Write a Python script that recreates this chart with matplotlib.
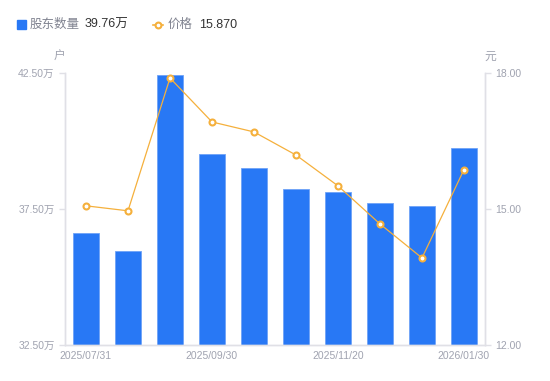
import matplotlib
matplotlib.use("Agg")
import matplotlib.pyplot as plt
from matplotlib.lines import Line2D

plt.rcParams['font.family'] = ['Liberation Sans', 'Noto Sans CJK SC', 'DejaVu Sans']

dates = ["2025/07/31", "2025/08/15", "2025/08/31", "2025/09/30", "2025/10/15",
         "2025/10/31", "2025/11/20", "2025/12/10", "2025/12/31", "2026/01/30"]
holders = [36.62, 35.96, 42.43, 39.52, 39.01, 38.24, 38.13, 37.72, 37.61, 39.76]
prices = [15.07, 14.96, 17.89, 16.92, 16.70, 16.19, 15.51, 14.67, 13.92, 15.87]
left_ticks = [32.5, 37.5, 42.5]
right_ticks = [12.0, 15.0, 18.0]
shown_idx = [0, 3, 6, 9]

BLUE = "#2878F5"
ORANGE = "#F5B03C"
GRID = "#E0E0E6"
TXT = "#A0A3B0"

fig = plt.figure(figsize=(5.5, 3.81), dpi=100)
ax = fig.add_axes([65/550, 36/381, 420/550, 272/381])
x = list(range(len(dates)))
ax.bar(x, holders, width=0.6, color=BLUE, edgecolor="#6FA3F7", linewidth=0.6, zorder=2)
ax.set_xlim(-0.5, len(dates) - 0.5)
ax.set_ylim(left_ticks[0], left_ticks[-1])
ax.set_yticks(left_ticks)
ax.set_yticklabels([f"{v:.2f}万" for v in left_ticks])
ax.set_xticks([x[i] for i in shown_idx])
ax.set_xticklabels([dates[i] for i in shown_idx])

ax2 = ax.twinx()
ax2.plot(x, prices, color=ORANGE, linewidth=0.9, marker="o", markersize=4.3,
         markerfacecolor="white", markeredgecolor=ORANGE, markeredgewidth=1.5, zorder=3)
ax2.set_ylim(right_ticks[0], right_ticks[-1])
ax2.set_yticks(right_ticks)
ax2.set_yticklabels([f"{v:.2f}" for v in right_ticks])

for a in (ax, ax2):
    for s in a.spines.values():
        s.set_color(GRID)
        s.set_linewidth(1)
    a.spines['top'].set_visible(False)
    a.tick_params(colors=GRID, labelcolor=TXT, labelsize=7.5, length=4, width=1)
ax.tick_params(axis='x', length=0, pad=4)

fig.text(60/550, 1 - 57/381, "户", color=TXT, fontsize=8.5, ha='center', va='center')
fig.text(490/550, 1 - 57/381, "元", color=TXT, fontsize=8.5, ha='center', va='center')

# legend header
fig.patches.append(plt.Rectangle((17/550, 1 - 29/381), 9/550, 9/381, transform=fig.transFigure,
                                 color=BLUE, figure=fig))
fig.text(30/550, 1 - 24.5/381, "股东数量", color="#808390", fontsize=9, va='center')
fig.text(85/550, 1 - 24.5/381, "39.76万", color="#333333", fontsize=9, va='center')
fig.lines.append(Line2D([153/550, 163/550], [1 - 24.5/381, 1 - 24.5/381], transform=fig.transFigure,
                        color=ORANGE, linewidth=1.2, figure=fig))
fig.lines.append(Line2D([158/550], [1 - 24.5/381], transform=fig.transFigure, marker='o',
                        markersize=4.2, markerfacecolor='white', markeredgecolor=ORANGE,
                        markeredgewidth=1.5, figure=fig))
fig.text(168/550, 1 - 24.5/381, "价格", color="#808390", fontsize=9, va='center')
fig.text(199/550, 1 - 24.5/381, "15.870", color="#333333", fontsize=9, va='center')

fig.savefig("out.png", dpi=100)
